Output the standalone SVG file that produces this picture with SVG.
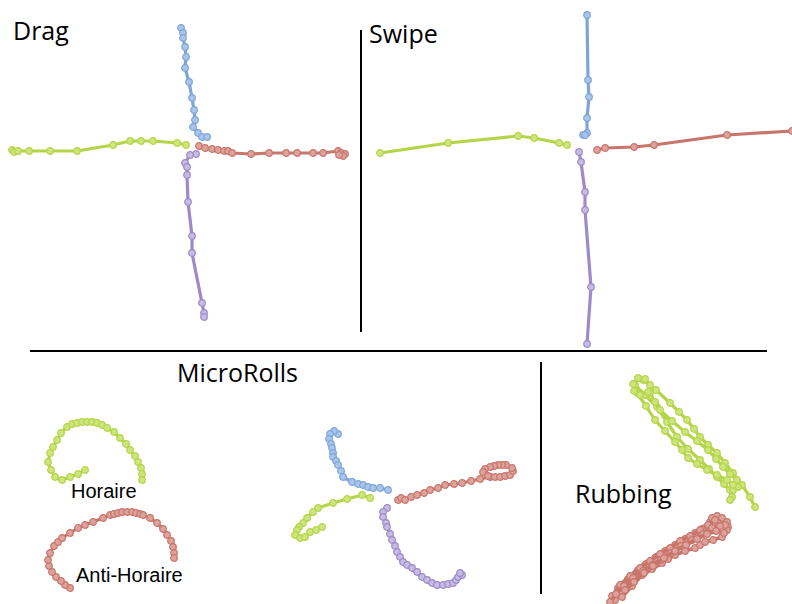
<svg xmlns="http://www.w3.org/2000/svg" width="792" height="604" viewBox="0 0 792 604">
<style>
.bg{fill:#ffffff}
.div{stroke:#000;stroke-width:2;fill:none}
.title{font-family:"Open Sans","Liberation Sans",sans-serif;font-size:25px;fill:#000}
.lbl{font-family:"Liberation Sans",Arial,sans-serif;font-size:20px;fill:#000}
.tr{fill:none;stroke-linejoin:round;stroke-linecap:round;stroke-width:3.2}
.thick{stroke-width:3.8}
.g{stroke:#b5d548;marker-start:url(#mg);marker-mid:url(#mg);marker-end:url(#mg)}
.b{stroke:#7ea5d8;marker-start:url(#mb);marker-mid:url(#mb);marker-end:url(#mb)}
.r{stroke:#c8756b;marker-start:url(#mr);marker-mid:url(#mr);marker-end:url(#mr)}
.p{stroke:#9c8bc8;marker-start:url(#mp);marker-mid:url(#mp);marker-end:url(#mp)}
</style>
<defs>
<marker id="mg" markerWidth="10" markerHeight="10" refX="5" refY="5" markerUnits="userSpaceOnUse"><circle cx="5" cy="5" r="3.3" fill="#cde57c" stroke="#b5d548" stroke-width="1.2"/></marker>
<marker id="mb" markerWidth="10" markerHeight="10" refX="5" refY="5" markerUnits="userSpaceOnUse"><circle cx="5" cy="5" r="3.3" fill="#aac5ea" stroke="#7ea5d8" stroke-width="1.2"/></marker>
<marker id="mr" markerWidth="10" markerHeight="10" refX="5" refY="5" markerUnits="userSpaceOnUse"><circle cx="5" cy="5" r="3.3" fill="#dca29b" stroke="#c8756b" stroke-width="1.2"/></marker>
<marker id="mp" markerWidth="10" markerHeight="10" refX="5" refY="5" markerUnits="userSpaceOnUse"><circle cx="5" cy="5" r="3.3" fill="#c6bbe3" stroke="#9c8bc8" stroke-width="1.2"/></marker>
</defs>
<rect class="bg" x="0" y="0" width="792" height="604"/>

<g id="dividers">
<line class="div" x1="361" y1="30" x2="361" y2="332"/>
<line class="div" x1="30" y1="351" x2="767" y2="351"/>
<line class="div" x1="541" y1="362" x2="541" y2="594"/>
</g>

<g id="drag">
<text class="title" x="13" y="40">Drag</text>
<polyline class="tr b" points="181,28 183,33 183,38 185,47 186,57 185,68 189,82 192,98 194,110 195,120 193,127 198,133 202,137 207,137"/>
<polyline class="tr g" points="12,150 14,152 18,151 29,151 50,151 77,151 113,145 130,141 141,141 153,141 177,143 186,145"/>
<polyline class="tr r" points="199,146 205,148 212,149 218,150 224,151 228,151 232,153 251,154 269,153 286,153 297,153 313,153 323,153 338,151 341,153 345,154 343,156 339,155"/>
<polyline class="tr p" points="196,154 190,155 185,163 187,167 187,175 188,202 192,236 192,253 202,303 204,313 204,317"/>
</g>

<g id="swipe">
<text class="title" x="369" y="43">Swipe</text>
<polyline class="tr b" points="587,15 588,80 589,97 587,118 587,133 583,135 585,135"/>
<polyline class="tr g" points="380,153 448,143 518,136 534,138 559,143 567,145"/>
<polyline class="tr r" points="597,150 605,148 634,147 654,145 727,135 792,131"/>
<polyline class="tr p" points="579,152 581,162 585,192 585,210 591,287 587,344"/>
</g>

<g id="microrolls">
<text class="title" x="177" y="382">MicroRolls</text>
<polyline class="tr g" points="85,470 78,474 70,477 62,480 55,477 51,470 48,462 50,453 53,447 57,440 61,433 67,427 72,424 77,423 82,422 87,422 92,422 97,423 102,425 107,428 114,432 120,438 126,444 130,450 135,456 138,462 141,468 142,474 142,480"/>
<text class="lbl" x="71" y="498">Horaire</text>
<polyline class="tr r" points="70,588 65,585 61,581 56,577 52,572 49,566 48,560 50,553 54,546 58,542 62,538 70,533 78,528 85,525 93,522 103,518 110,515 114,514 118,513 122,512 127,512 132,512 136,513 140,514 143,515 150,518 157,523 163,529 167,535 171,541 173,547 174,553 174,558"/>
<text class="lbl" x="76" y="582">Anti-Horaire</text>
<polyline class="tr b" points="338,434 334,431 330,434 329,439 331,444 332,448 333,453 333,457 336,461 338,465 341,471 343,477 352,482 358,484 363,485 368,487 373,488 380,488 388,490"/>
<polyline class="tr g" points="370,498 362,495 347,499 333,503 318,508 313,512 307,518 303,523 299,527 297,530 295,535 300,538 305,537 310,532 316,530 322,527"/>
<polyline class="tr r" points="398,500 401,498 405,500 411,497 417,495 424,493 430,490 438,488 445,485 454,484 462,483 471,481 480,479 490,477 495,477 500,477 505,476 510,475 513,471 512,468 506,465 502,465 498,465 494,466 490,467 485,469 483,472 488,476"/>
<polyline class="tr p" points="387,508 383,512 383,517 386,523 387,527 390,534 392,540 395,546 397,552 400,557 403,562 407,565 412,568 417,572 422,577 427,580 432,583 437,585 443,585 448,584 453,583 456,580 458,577 462,575 460,573"/>
</g>

<g id="rubbing">
<text class="title" x="575" y="503">Rubbing</text>
<polyline class="tr g" points="635,385 645,395 657,407 667,422 677,437 688,449 700,460 709,469 717,477 724,484 730,490 732,497 730,500"/>
<polyline class="tr g" points="643,380 656,390 670,403 679,412 687,420 694,429 700,437 708,445 717,453 725,463 733,473 742,485 750,497 755,507"/>
<polyline class="tr g" points="650,393 655,402 660,410 672,421 685,432 697,441 708,450 716,459 723,467 730,474 737,480 738,487 733,490"/>
<polyline class="tr g" points="637,393 646,406 655,420 665,431 675,442 682,450 688,458 697,464 707,470 717,475 727,480 733,485"/>
<polyline class="tr g" points="633,384 638,378 645,379 650,385 648,392 640,395 634,391"/>
<polyline class="tr thick r" points="615,600 621,591 628,582 636,573 645,565 656,557 668,550 678,544 688,538 697,533 705,528 710,522 712,518 717,516 722,518 727,522 728,527"/>
<polyline class="tr thick r" points="622,597 632,586 642,575 652,569 662,563 668,559 675,555 685,551 695,548 700,545 705,542 713,540 722,537 727,530 725,525 718,523"/>
<polyline class="tr thick r" points="618,588 628,579 638,570 646,564 655,558 665,551 675,545 685,539 695,533 702,529 708,525 715,520"/>
<polyline class="tr thick r" points="612,596 620,585 630,576 640,568 650,561 660,554 670,548 680,541 690,536 700,530"/>
<polyline class="tr thick r" points="610,602 616,594 624,586 633,578 643,571 652,565 661,560 671,553 681,546 692,540 703,534 712,528 720,526"/>
<polyline class="tr thick r" points="625,590 634,582 644,573 653,566 664,558 675,551 686,545 697,539 707,534 716,531 724,533"/>
</g>
</svg>
